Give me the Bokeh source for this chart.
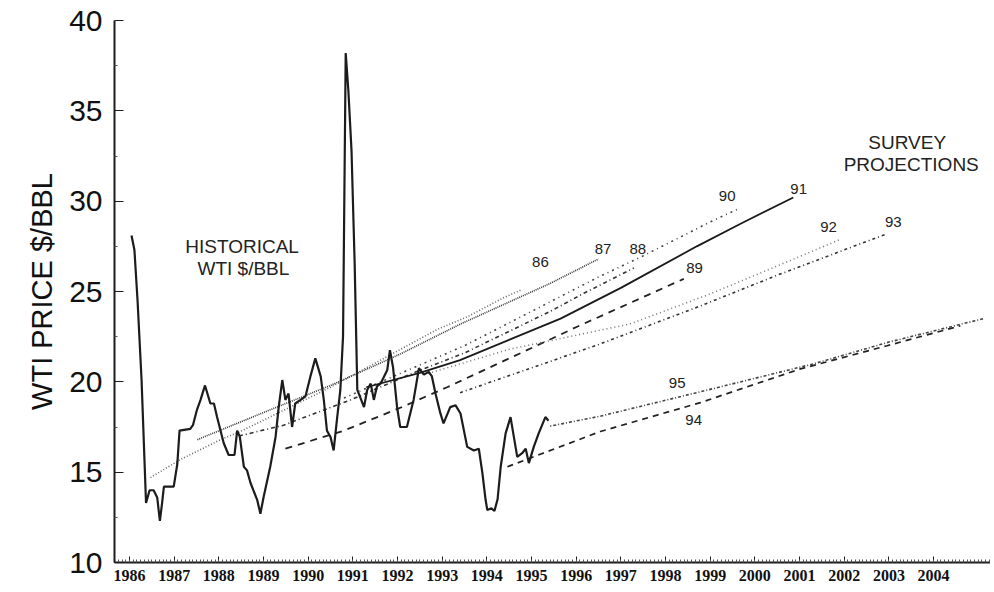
from bokeh.plotting import figure
from bokeh.models import Range1d, FixedTicker
from bokeh.core.properties import value
from bokeh.embed import file_html
from bokeh.resources import INLINE

# ---------------- data ----------------
axis_years = list(range(1986, 2005))
axis_year_labels = [str(y) for y in axis_years]
price_ticks = [10, 15, 20, 25, 30, 35, 40]

hist_year = [1986.045, 1986.11, 1986.18, 1986.27, 1986.37, 1986.45, 1986.54, 1986.62, 1986.68,
             1986.73, 1986.77, 1986.99, 1987.07, 1987.12, 1987.36, 1987.42, 1987.51, 1987.59,
             1987.69, 1987.81, 1987.89, 1987.96, 1988.11, 1988.22, 1988.35, 1988.41, 1988.47,
             1988.56, 1988.63, 1988.71, 1988.86, 1988.93, 1989.0, 1989.15, 1989.27, 1989.34,
             1989.42, 1989.49, 1989.56, 1989.64, 1989.71, 1989.83, 1989.94, 1990.05, 1990.16,
             1990.28, 1990.35, 1990.42, 1990.5, 1990.57, 1990.65, 1990.72, 1990.78, 1990.84,
             1990.9, 1990.97, 1991.04, 1991.1, 1991.25, 1991.32, 1991.4, 1991.47, 1991.54,
             1991.62, 1991.77, 1991.83, 1991.9, 1991.99, 1992.06, 1992.21, 1992.36, 1992.48,
             1992.59, 1992.7, 1992.77, 1992.85, 1992.96, 1993.03, 1993.18, 1993.3, 1993.41,
             1993.56, 1993.71, 1993.82, 1993.9, 1993.97, 1994.01, 1994.1, 1994.17, 1994.24,
             1994.31, 1994.42, 1994.53, 1994.68, 1994.79, 1994.87, 1994.94, 1995.05, 1995.16,
             1995.31, 1995.38]
hist_price = [28.1, 27.3, 24.5, 20.1, 13.3, 14.0, 14.0, 13.6, 12.3,
              13.3, 14.2, 14.2, 15.45, 17.3, 17.4, 17.6, 18.45, 19.0,
              19.8, 18.8, 18.8, 18.05, 16.6, 15.95, 15.95, 17.3, 16.95,
              15.3, 15.1, 14.4, 13.45, 12.7, 13.6, 15.3, 16.95, 18.6,
              20.1, 19.0, 19.35, 17.5, 18.8, 19.0, 19.2, 20.3, 21.3,
              20.3, 19.0, 17.3, 16.95, 16.2, 18.05, 19.55, 22.5, 38.2,
              36.1, 32.8, 26.6, 19.55, 18.6, 19.55, 19.9, 19.0, 19.75,
              19.9, 20.65, 21.75, 20.8, 18.6, 17.5, 17.5, 19.0, 20.75,
              20.4, 20.55, 20.3, 19.35, 18.25, 17.7, 18.6, 18.7, 18.25,
              16.4, 16.2, 16.3, 14.95, 13.5, 12.9, 13.0, 12.85, 13.5,
              15.3, 17.15, 18.05, 15.85, 16.05, 16.3, 15.5, 16.4, 17.15,
              18.05, 17.85]

p86_year = [1986.47, 1987.14, 1988.04, 1988.48, 1990.5, 1992.89, 1993.56, 1994.37, 1994.78]
p86_price = [14.7, 15.7, 16.8, 17.25, 19.7, 22.9, 23.6, 24.65, 25.1]

p87_year = [1987.52, 1989.0, 1990.5, 1991.4, 1992.07, 1993.41, 1995.42, 1996.5]
p87_price = [16.8, 18.3, 19.8, 20.8, 21.55, 23.2, 25.45, 26.8]

p88_year = [1988.45, 1989.45, 1990.95, 1992.36, 1993.5, 1995.42, 1996.17, 1997.29]
p88_price = [17.0, 17.6, 19.0, 20.5, 21.6, 23.9, 24.9, 26.3]

p89_year = [1989.49, 1990.8, 1992.0, 1993.11, 1995.46, 1996.02, 1998.41]
p89_price = [16.3, 17.3, 18.5, 19.7, 22.4, 23.05, 25.7]

p90_year = [1990.8, 1992.0, 1993.5, 1995.0, 1996.5, 1997.44, 1999.0, 1999.65]
p90_price = [19.1, 20.4, 22.0, 23.9, 25.8, 26.9, 28.85, 29.6]

p91_year = [1991.3, 1992.5, 1993.4, 1995.65, 1997.0, 1998.7, 1999.68, 2000.86]
p91_price = [19.7, 20.5, 21.2, 23.5, 25.2, 27.5, 28.75, 30.2]

p92_year = [1992.6, 1994.5, 1997.2, 1998.93, 2000.2, 2001.88]
p92_price = [20.4, 21.8, 23.2, 24.8, 26.1, 27.85]

p93_year = [1993.4, 1995.5, 1996.54, 1998.78, 2000.5, 2002.96]
p93_price = [19.4, 21.2, 22.1, 24.2, 25.9, 28.2]

p94_year = [1994.46, 1996.54, 1998.78, 2001.0, 2002.96, 2004.6]
p94_price = [15.3, 17.25, 18.85, 20.7, 22.0, 23.1]

p95_year = [1995.42, 1996.54, 1998.78, 2001.32, 2003.0, 2005.12]
p95_price = [17.55, 18.1, 19.45, 21.0, 22.2, 23.5]

survey_labels = ["86", "87", "88", "89", "90", "91", "92", "93", "94", "95"]
survey_label_year = [1995.2, 1996.6, 1997.38, 1998.65, 1999.38, 2000.98, 2001.65, 2003.1, 1998.63, 1998.26]
survey_label_price = [26.63, 27.35, 27.38, 26.28, 30.28, 30.7, 28.58, 28.86, 17.86, 19.93]

note_texts = ["HISTORICAL", "WTI $/BBL", "SURVEY", "PROJECTIONS"]
note_year = [1988.52, 1988.55, 2003.41, 2003.5]
note_price = [27.48, 26.3, 33.23, 32.04]

# ---------------- figure ----------------
FONT = "Liberation Sans"
INK = "#1c1c1c"

p = figure(width=990, height=588, output_backend="svg", toolbar_location=None,
           x_range=Range1d(1985.664, 2005.275), y_range=Range1d(10, 40),
           min_border_left=114, min_border_right=0, min_border_top=20, min_border_bottom=26)
p.outline_line_color = None
p.xgrid.visible = False
p.ygrid.visible = False
p.background_fill_color = "white"
p.border_fill_color = "white"

# x axis
xa = p.xaxis[0]
xa.ticker = FixedTicker(ticks=axis_years,
                        minor_ticks=[y + m / 12 for y in range(1985, 2006) for m in range(12)])
xa.major_label_overrides = {y: s for y, s in zip(axis_years, axis_year_labels)}
xa.major_label_text_font = "Liberation Sans Narrow"
xa.major_label_text_font_style = "bold"
xa.major_label_text_font_size = "16px"
xa.major_label_text_color = "#111"
xa.major_label_standoff = 7
xa.major_tick_in = 6
xa.major_tick_out = 0
xa.minor_tick_in = 3
xa.minor_tick_out = 0
xa.axis_line_width = 2
xa.axis_line_color = INK
xa.major_tick_line_color = INK
xa.minor_tick_line_color = "#555"

# y axis
ya = p.yaxis[0]
ya.ticker = FixedTicker(ticks=price_ticks,
                        minor_ticks=[t + 2.5 for t in price_ticks[:-1]])
ya.major_label_text_font = FONT
ya.major_label_text_font_size = "30px"
ya.major_label_text_color = "#111"
ya.major_label_standoff = 12
ya.major_tick_in = 9
ya.major_tick_out = 0
ya.minor_tick_in = 3
ya.minor_tick_out = 0
ya.axis_line_width = 2
ya.axis_line_color = INK
ya.major_tick_line_color = INK
ya.minor_tick_line_color = "#555"
ya.axis_label = "WTI PRICE $/BBL"
ya.axis_label_text_font = FONT
ya.axis_label_text_font_style = "normal"
ya.axis_label_text_font_size = "29px"
ya.axis_label_text_color = "#111"
ya.axis_label_standoff = 8

# projections
series = [
    (p86_year, p86_price, "1 2", "#666", 1.6),
    (p87_year, p87_price, "1 1", "#333", 1.6),
    (p88_year, p88_price, "4 3 1 3", "#333", 1.6),
    (p89_year, p89_price, "7 6", "#222", 1.8),
    (p90_year, p90_price, "2 4 1 4", "#444", 1.6),
    (p91_year, p91_price, "solid", "#1a1a1a", 1.8),
    (p92_year, p92_price, "1 3", "#777", 1.6),
    (p93_year, p93_price, "3 3 1 3", "#333", 1.6),
    (p94_year, p94_price, "6 5", "#222", 1.7),
    (p95_year, p95_price, "1 2 3 2", "#444", 1.6),
]
for xs, ys, dash, col, w in series:
    p.line(xs, ys, line_dash=dash, line_color=col, line_width=w)

# historical
p.line(hist_year, hist_price, line_color=INK, line_width=2.2)

# labels
p.text(x=survey_label_year, y=survey_label_price, text=survey_labels,
       text_font=value(FONT), text_font_size="15px", text_color="#222",
       text_align="center", text_baseline="middle")
p.text(x=note_year, y=note_price, text=note_texts,
       text_font=value(FONT), text_font_size="19px", text_color="#222",
       text_align="center", text_baseline="middle")

open("out.html", "w").write(file_html(p, INLINE))
